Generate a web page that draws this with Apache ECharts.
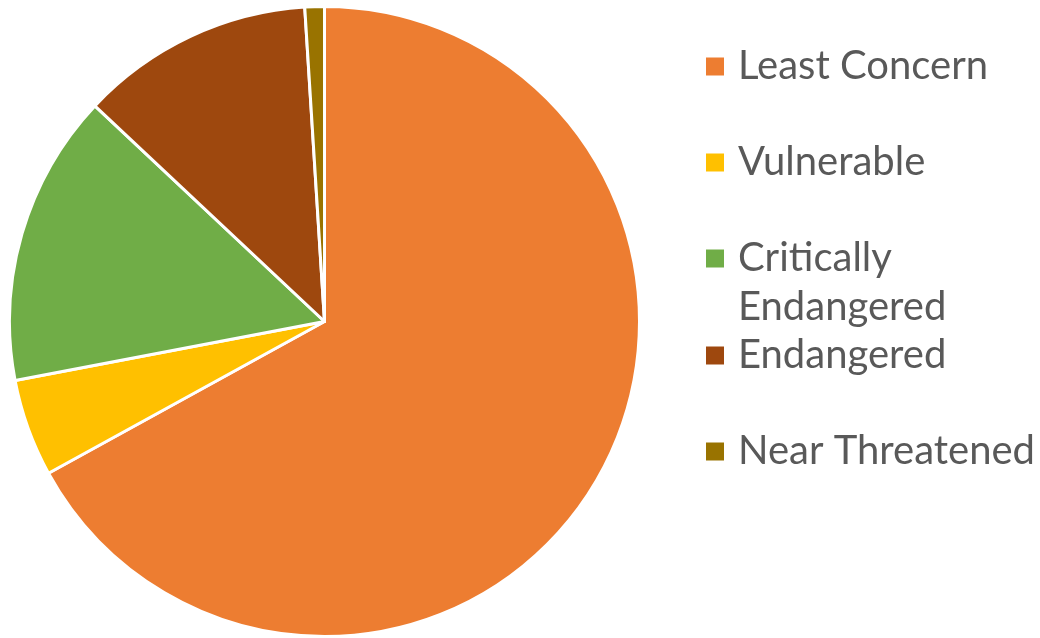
<!DOCTYPE html>
<html>
<head>
<meta charset="utf-8">
<script src="https://cdn.jsdelivr.net/npm/echarts@6/dist/echarts.min.js"></script>
<style>
html,body{margin:0;padding:0;background:#fff;}
#chart{width:1040px;height:638px;}
</style>
</head>
<body>
<div id="chart"></div>
<script>
const categories = ['Least Concern', 'Vulnerable', 'Critically Endangered', 'Endangered', 'Near Threatened'];
const values = [67, 5, 15, 12, 1];
const colors = ['#ED7D31', '#FFC000', '#70AD47', '#9E480E', '#997300'];
const legendLabels = {'Critically Endangered': 'Critically'};
const wrappedLine = 'Endangered';

const legendBase = {
  orient: 'vertical',
  left: 706,
  padding: 0,
  itemWidth: 18,
  itemHeight: 18,
  itemGap: 49,
  icon: 'rect',
  selectedMode: false,
  itemStyle: {borderWidth: 0},
  textStyle: {fontFamily: 'Lato', fontSize: 40, color: '#595959', lineHeight: 47, padding: [0, 0, 0, 9]},
  formatter: function (name) { return legendLabels[name] || name; }
};
const textFont = {fontFamily: 'Lato', fontSize: 40, fill: '#595959'};

const chart = echarts.init(document.getElementById('chart'), null, {renderer: 'canvas'});
const option = {
  animation: false,
  color: colors,
  legend: [
    Object.assign({}, legendBase, {top: 43, data: categories.slice(0, 3)}),
    Object.assign({}, legendBase, {top: 332, data: categories.slice(3)})
  ],
  graphic: [{
    type: 'text',
    left: 738,
    top: 284,
    style: Object.assign({text: wrappedLine, lineHeight: 47}, textFont)
  }],
  series: [{
    type: 'pie',
    center: [324.5, 321.5],
    radius: 315,
    startAngle: 90,
    clockwise: true,
    label: {show: false},
    labelLine: {show: false},
    itemStyle: {borderColor: '#ffffff', borderWidth: 3},
    data: categories.map(function (c, i) { return {name: c, value: values[i]}; })
  }]
};
chart.setOption(option);
</script>
</body>
</html>
